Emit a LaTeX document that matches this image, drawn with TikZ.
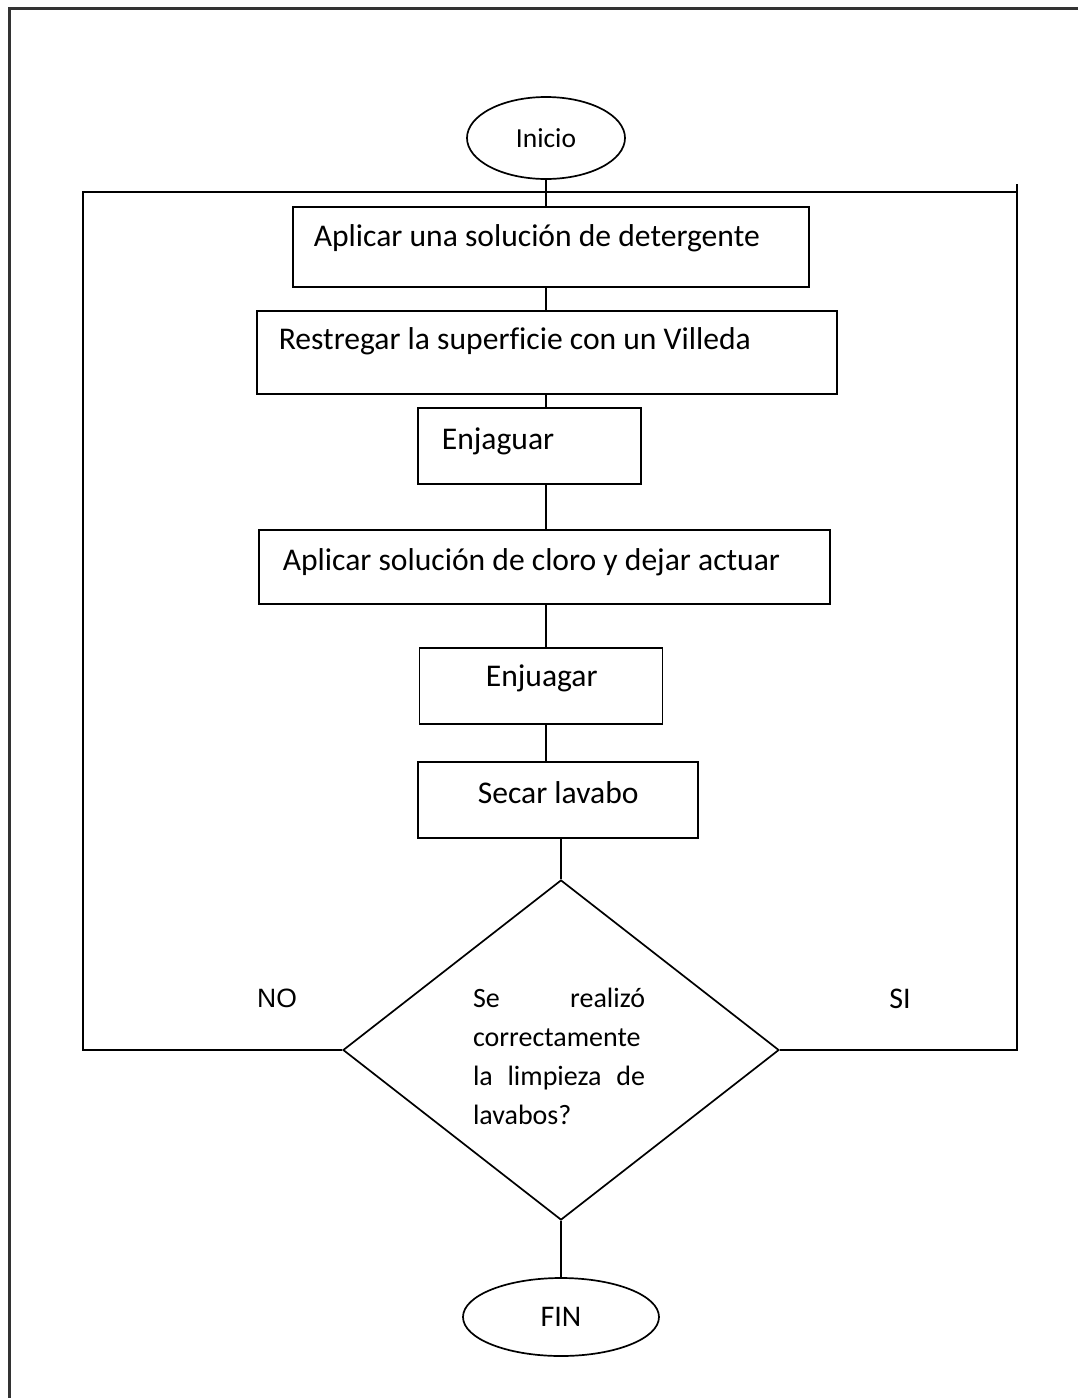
\documentclass[tikz,border=0pt]{standalone}
\usepackage{fontspec}
\setmainfont[Ligatures=CommonOff]{Carlito}
\newfontfamily\arialfont{Liberation Sans}
\usetikzlibrary{shapes.geometric}

\begin{document}
\begin{tikzpicture}[x=1pt,y=-1pt,
  line width=1.7pt,
  stepbox/.style={draw, rectangle, inner sep=0pt},
  term/.style={draw, ellipse, inner sep=0pt},
  decision/.style={draw, diamond, inner sep=0pt, minimum width=436pt, minimum height=340pt},
  steptext/.style={anchor=west, inner sep=0pt, font=\fontsize{31.6}{37}\selectfont},
  conn/.style={draw}]

\useasboundingbox (0,0) rectangle (1078,1398);

% page frame (only top and left edges fall inside the page)
\draw[line width=2.4pt, black!80] (9.5,1400) -- (9.5,8.5) -- (1080,8.5);

% start
\node[term, minimum width=158pt, minimum height=82pt, font=\fontsize{27.5}{32}\selectfont] (ini) at (546,138) {Inicio};

% process steps
\node[stepbox, minimum width=516pt, minimum height=80pt] (b1) at (551,247) {};
\node[steptext] (t1) at (313,238) {Aplicar una solución de detergente};

\node[stepbox, minimum width=580pt, minimum height=83pt] (b2) at (547,352.5) {};
\node[steptext] (t2) at (278,341) {Restregar la superficie con un Villeda};

\node[stepbox, minimum width=223pt, minimum height=76pt] (b3) at (529.5,446) {};
\node[steptext] (t3) at (441,441) {Enjaguar};

\node[stepbox, minimum width=571pt, minimum height=74pt] (b4) at (544.5,567) {};
\node[steptext] (t4) at (282,562) {Aplicar solución de cloro y dejar actuar};

\node[stepbox, minimum width=243pt, minimum height=76pt] (b5) at (541,686) {};
\node[steptext] (t5) at (485,678) {Enjuagar};

\node[stepbox, minimum width=280pt, minimum height=76pt] (b6) at (558,800) {};
\node[steptext] (t6) at (477,793) {Secar lavabo};

% decision
\node[decision] (dec) at (561,1050) {};
\node[inner sep=0pt, text width=172pt, align=left, font=\fontsize{28}{39}\selectfont] (q) at (559,1056)
  {Se\hfill realizó\\ correctamente\\ la\hfill limpieza\hfill de\\ lavabos?};

% end
\node[term, minimum width=196pt, minimum height=78pt, font=\fontsize{30}{36}\selectfont] (fin) at (561,1317) {FIN};

% main flow
\draw[conn] (ini.south) -- (ini.south |- b1.north);
\draw[conn] (b1.south -| ini.south) -- (b2.north -| ini.south);
\draw[conn] (b2.south -| ini.south) -- (b3.north -| ini.south);
\draw[conn] (b3.south -| ini.south) -- (b4.north -| ini.south);
\draw[conn] (b4.south -| ini.south) -- (b5.north -| ini.south);
\draw[conn] (b5.south -| ini.south) -- (b6.north -| ini.south);
\draw[conn] (b6.south -| dec.north) -- (dec.north);
\draw[conn] (dec.south) -- (fin.north);

% loop back frame
\coordinate (lt) at (83,192);
\coordinate (rt) at (1017,192);
\coordinate (rtop) at (1017,184);
\draw[conn] (dec.west) -| (lt) -- (rt);
\draw[conn] (dec.east) -| (rtop);

% branch labels
\node[font=\arialfont\fontsize{26.5}{32}\selectfont] (no) at (277,998) {NO};
\node[font=\fontsize{30}{36}\selectfont] (si) at (900,999) {SI};

\end{tikzpicture}
\end{document}
